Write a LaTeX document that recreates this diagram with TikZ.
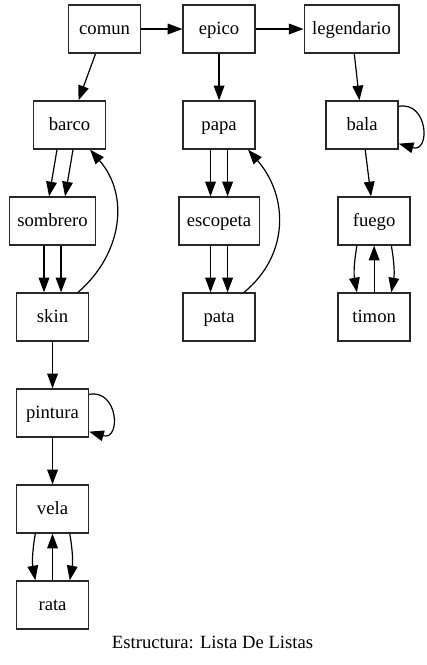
\documentclass[tikz,border=0pt]{standalone}
\usepackage{fontspec}
\setmainfont{Liberation Serif}
\newfontfamily\gvfont{Liberation Serif}
\usepackage{tikz}
\usetikzlibrary{arrows.meta, positioning}
\definecolor{nodeLine}{RGB}{40,40,40}
\tikzset{
  itemBox/.style  = {rectangle, draw=nodeLine, line width=1pt, fill=white,
                     minimum width=54pt, minimum height=36pt, inner xsep=6pt,
                     text height=10.5pt, text depth=2.5pt,
                     font=\gvfont\fontsize{14pt}{16pt}\selectfont},
  listArrow/.style = {-{Triangle[length=11pt, width=8pt]}, line width=0.9pt, black},
}
\begin{document}
\begin{tikzpicture}[on grid, node distance=72pt, b/.style={itemBox}]
  \useasboundingbox (0,0) rectangle (320.25pt,-498.75pt);
  % fila superior
  \node[b] (comun) at (78.4pt,-21.75pt) {comun};
  \node[b,right=85.9pt of comun](epico){epico};
  \node[b,right=99.4pt of epico](legendario){legendario};
  % lista comun
  \node[b,below left=72pt and 26.25pt of comun](barco){barco};
  \node[b,below left=72pt and 12.75pt of barco](sombrero){sombrero};
  \node[b,below=of sombrero](skin){skin};
  \node[b,below=of skin](pintura){pintura};
  \node[b,below=of pintura](vela){vela};
  \node[b,below=of vela](rata){rata};
  % lista epico
  \node[b,below=of epico](papa){papa};
  \node[b,below=of papa](escopeta){escopeta};
  \node[b,below=of escopeta](pata){pata};
  % lista legendario
  \node[b,below right=72pt and 7.9pt of legendario](bala){bala};
  \node[b,below right=72pt and 9pt of bala](fuego){fuego};
  \node[b,below=of fuego](timon){timon};
  \node[inner sep=0pt, anchor=base, font=\gvfont\fontsize{14pt}{16pt}\selectfont]
      (titulo) at (159.4pt,-486pt) {Estructura: Lista De Listas};

  \foreach \x/\y in {comun/epico,epico/legendario,comun/barco,epico/papa,
                     legendario/bala,bala/fuego,skin/pintura,pintura/vela}
    {\draw[listArrow](\x)--(\y);}
  \foreach \x/\y in {sombrero/skin,papa/escopeta,escopeta/pata}{
    \draw[listArrow]([xshift=-6.4pt]\x.south)--([xshift=-6.4pt]\y.north);
    \draw[listArrow]([xshift=6.4pt]\x.south)--([xshift=6.4pt]\y.north);}
  \draw[listArrow]([xshift=-9.4pt]barco.south)--([xshift=-2.6pt]sombrero.north);
  \draw[listArrow]([xshift=2.6pt]barco.south)--([xshift=9.4pt]sombrero.north);
  % regreso al inicio
  \draw[listArrow]([xshift=19.1pt]skin.north) .. controls +(33pt,28.5pt) and +(30pt,-34.5pt)
      .. ([xshift=15.4pt]barco.south);
  \draw[listArrow]([xshift=18.75pt]pata.north) .. controls +(34.5pt,28.5pt) and +(30pt,-34.5pt)
      .. ([xshift=21.75pt]papa.south);
  % dobles enlaces
  \foreach \x/\y in {fuego/timon,vela/rata}{
    \draw[listArrow,bend right=10]([xshift=-12.9pt]\x.south)to([xshift=-12.9pt]\y.north);
    \draw[listArrow,bend left=10]([xshift=12.9pt]\x.south)to([xshift=12.9pt]\y.north);
    \draw[listArrow](\y)--(\x);}
  % ciclos
  \foreach \x in {bala,pintura}
    {\draw[listArrow]([yshift=-4.5pt]\x.north east) .. controls +(22pt,4pt) and +(24pt,-7pt)
      .. ([yshift=4.5pt]\x.south east);}
\end{tikzpicture}
\end{document}
